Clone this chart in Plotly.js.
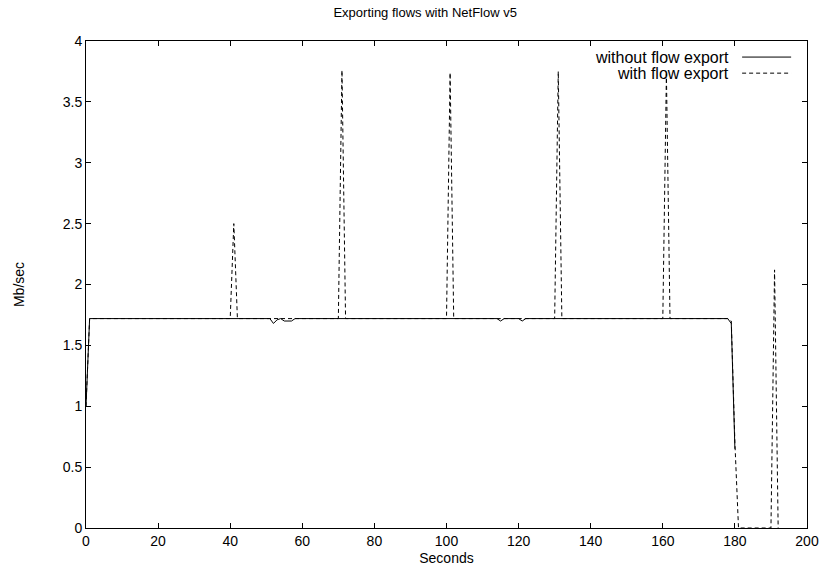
<!DOCTYPE html>
<html>
<head>
<meta charset="utf-8">
<script src="https://cdn.plot.ly/plotly-3.0.1.min.js"></script>
<style>html,body{margin:0;padding:0;background:#fff;}#chart{width:824px;height:574px;}</style>
</head>
<body>
<div id="chart"></div>
<script>
// Series: "without flow export" (solid)
var withoutX = [0, 1, 51, 52, 53, 54, 55, 56, 57, 58, 114, 115, 116, 120, 121, 122, 178, 179, 180];
var withoutY = [1.0, 1.72, 1.72, 1.68, 1.71, 1.72, 1.70, 1.70, 1.70, 1.72, 1.72, 1.70, 1.72, 1.72, 1.70, 1.72, 1.72, 1.68, 0.65];

// Series: "with flow export" (dashed)
var withX = [0, 1, 40, 41, 42, 70, 71, 72, 100, 101, 102, 130, 131, 132, 160, 161, 162, 178, 179, 180, 181, 190, 191, 192];
var withY = [1.0, 1.72, 1.72, 2.5, 1.72, 1.72, 3.76, 1.72, 1.72, 3.74, 1.72, 1.72, 3.75, 1.72, 1.72, 3.73, 1.72, 1.72, 1.70, 0.7, 0, 0, 2.12, 0];

var seriesNames = ["without flow export", "with flow export"];
var titleText = "Exporting flows with NetFlow v5";
var xTitle = "Seconds";
var yTitle = "Mb/sec";

var fam = "Liberation Sans, Arial, sans-serif";
var font = {family: fam, size: 14, color: "#000"};
var titleFont = {family: fam, size: 13, color: "#000"};
var legFont = {family: fam, size: 16, color: "#000"};

var traces = [
  {x: withoutX, y: withoutY, mode: "lines", name: seriesNames[0],
   line: {color: "#000", width: 1}},
  {x: withX, y: withY, mode: "lines", name: seriesNames[1],
   line: {color: "#000", width: 1, dash: "4px,3px"}}
];

var legX = 0.895, legY1 = 0.967, legY2 = 0.934, sx0 = 0.91, sx1 = 0.978;

var layout = {
  width: 824, height: 574,
  margin: {l: 86, r: 17, t: 41, b: 46},
  paper_bgcolor: "#fff", plot_bgcolor: "#fff",
  font: font,
  showlegend: false,
  title: {text: titleText, font: titleFont, x: 0.516, xref: "container", xanchor: "center", y: 0.979, yref: "container", yanchor: "middle"},
  xaxis: {
    range: [0, 200], dtick: 20, tick0: 0,
    showline: true, linecolor: "#000", linewidth: 1, mirror: "ticks",
    ticks: "inside", ticklen: 5, tickcolor: "#000", tickwidth: 1,
    showgrid: false, zeroline: false, tickfont: font, layer: "above traces",
    title: {text: xTitle, font: font, standoff: 5}
  },
  yaxis: {
    range: [0, 4], dtick: 0.5, tick0: 0,
    showline: true, linecolor: "#000", linewidth: 1, mirror: "ticks",
    ticks: "inside", ticklen: 5, tickcolor: "#000", tickwidth: 1,
    showgrid: false, zeroline: false, tickfont: font, layer: "above traces",
    title: {text: yTitle, font: font, standoff: 34}
  },
  annotations: [
    {xref: "paper", yref: "paper", x: legX, y: legY1, xanchor: "right", yanchor: "middle", text: seriesNames[0], showarrow: false, font: legFont},
    {xref: "paper", yref: "paper", x: legX, y: legY2, xanchor: "right", yanchor: "middle", text: seriesNames[1], showarrow: false, font: legFont}
  ],
  shapes: [
    {type: "line", xref: "paper", yref: "paper", x0: sx0, x1: sx1, y0: legY1, y1: legY1, line: {color: "#000", width: 1}},
    {type: "line", xref: "paper", yref: "paper", x0: sx0, x1: sx1, y0: legY2, y1: legY2, line: {color: "#000", width: 1, dash: "4px,3px"}}
  ]
};

Plotly.newPlot("chart", traces, layout, {staticPlot: true, displayModeBar: false});
</script>
</body>
</html>
